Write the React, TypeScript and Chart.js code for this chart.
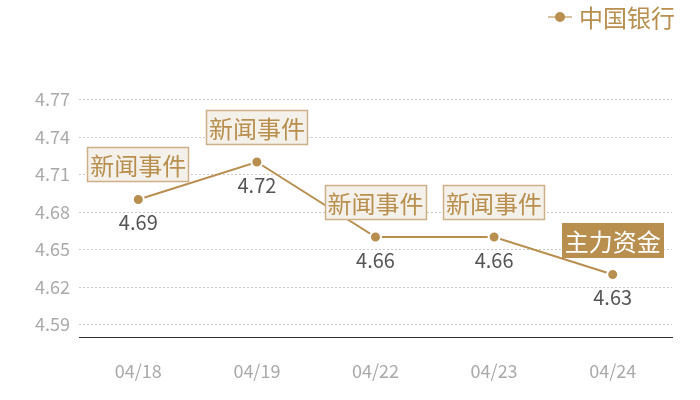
import React, { useEffect, useRef } from 'react'
import { Chart, registerables } from 'chart.js'

Chart.register(...registerables)

const labels = ['04/18', '04/19', '04/22', '04/23', '04/24']
const prices = [4.69, 4.72, 4.66, 4.66, 4.63]
const yTicks = [4.59, 4.62, 4.65, 4.68, 4.71, 4.74, 4.77]
const eventTexts = ['新闻事件', '新闻事件', '新闻事件', '新闻事件', '主力资金']
const eventFilled = [false, false, false, false, true]
const seriesName = '中国银行'

const GOLD = '#b88f4e'
const FONT = '"Noto Sans CJK SC", "Noto Sans", sans-serif'

// value labels under each point + event boxes above
const markPlugin = {
  id: 'marks',
  afterDatasetsDraw(chart: any) {
    const { ctx } = chart
    const meta = chart.getDatasetMeta(0)
    ctx.save()
    meta.data.forEach((pt: any, i: number) => {
      const x = pt.x
      const y = pt.y

      ctx.font = `20px ${FONT}`
      ctx.fillStyle = '#555'
      ctx.textAlign = 'center'
      ctx.textBaseline = 'middle'
      ctx.fillText(prices[i].toFixed(2), x, y + 23)

      ctx.font = `24px ${FONT}`
      const w = ctx.measureText(eventTexts[i]).width + 6
      const h = 35
      const bx = Math.round(x - w / 2)
      const by = Math.round(y - 17 - h)
      if (eventFilled[i]) {
        ctx.fillStyle = GOLD
        ctx.fillRect(bx, by, w, h)
        ctx.fillStyle = '#fff'
      } else {
        ctx.fillStyle = '#f4f0ea'
        ctx.fillRect(bx, by, w, h)
        ctx.strokeStyle = '#cdb086'
        ctx.lineWidth = 1.5
        ctx.strokeRect(bx + 0.5, by + 0.5, w - 1, h - 1)
        ctx.fillStyle = GOLD
      }
      ctx.fillText(eventTexts[i], x, by + h / 2 + 1)
    })
    ctx.restore()
  },
  afterDraw(chart: any) {
    const { ctx } = chart
    ctx.save()
    ctx.font = `24px ${FONT}`
    const tw = ctx.measureText(seriesName).width
    const right = 675
    const ty = 17
    const tx = right - tw
    ctx.strokeStyle = '#d8c39e'
    ctx.lineWidth = 2
    ctx.beginPath()
    ctx.moveTo(tx - 31, ty)
    ctx.lineTo(tx - 7, ty)
    ctx.stroke()
    ctx.fillStyle = GOLD
    ctx.beginPath()
    ctx.arc(tx - 19, ty, 5, 0, Math.PI * 2)
    ctx.fill()
    ctx.textAlign = 'left'
    ctx.textBaseline = 'middle'
    ctx.fillText(seriesName, tx, ty + 1)
    ctx.restore()
  },
}

const App = () => {
  const chartRef = useRef<HTMLCanvasElement>(null)

  useEffect(() => {
    document.body.style.margin = '0'
    if (!chartRef.current) return
    const ctx = chartRef.current.getContext('2d')
    if (!ctx) return

    const chart = new Chart(ctx, {
      type: 'line',
      data: {
        labels,
        datasets: [
          {
            label: seriesName,
            data: prices,
            borderColor: GOLD,
            borderWidth: 2,
            backgroundColor: GOLD,
            pointBackgroundColor: GOLD,
            pointBorderColor: '#fff',
            pointBorderWidth: 2,
            pointRadius: 5.5,
            tension: 0,
            fill: false,
          },
        ],
      },
      options: {
        animation: false,
        responsive: true,
        maintainAspectRatio: false,
        layout: { padding: { top: 87, right: 28, left: 0, bottom: 0 } },
        plugins: {
          legend: { display: false },
          tooltip: { enabled: false },
        },
        scales: {
          x: {
            offset: true,
            grid: { display: false, drawTicks: false },
            border: { display: true, color: '#333', width: 1 },
            ticks: {
              color: '#aaa',
              padding: 23,
              font: { size: 18, family: FONT },
            },
            afterFit: (s: any) => {
              s.height = 63
            },
          },
          y: {
            min: 4.58,
            max: 4.78,
            afterBuildTicks: (s: any) => {
              s.ticks = yTicks.map((v) => ({ value: v }))
            },
            afterFit: (s: any) => {
              s.width = 79
            },
            grid: { color: '#c8c8c8', drawTicks: false, lineWidth: 1 },
            border: { display: false, dash: [2, 2] },
            ticks: {
              color: '#aaa',
              padding: 9,
              font: { size: 18, family: FONT },
              callback: (v: any) => Number(v).toFixed(2),
            },
          },
        },
      },
      plugins: [markPlugin],
    })

    return () => {
      chart.destroy()
    }
  }, [])

  return (
    <div style={{ width: 700, height: 400, position: 'relative' }}>
      <canvas ref={chartRef}></canvas>
    </div>
  )
}

export default App
